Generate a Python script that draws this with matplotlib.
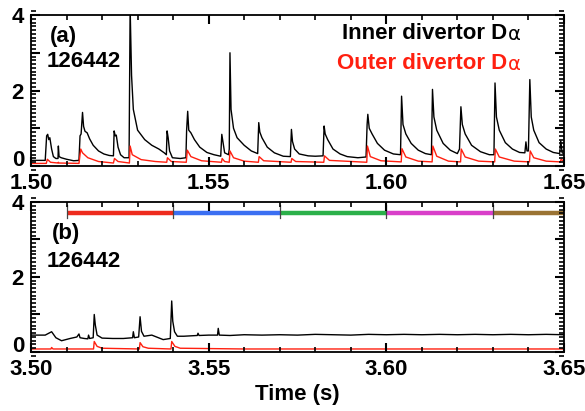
import numpy as np
import matplotlib
matplotlib.use("Agg")
import matplotlib.pyplot as plt
from matplotlib.ticker import MultipleLocator

'''=======================================================
==================    DATA    ============================
======================================================='''

ShotNumber = "126442"

# panel (a): inner divertor D-alpha
TopInnerTime = [
    1.5000, 1.5040, 1.5044, 1.5047, 1.5050, 1.5053, 1.5058, 1.5063, 1.5070, 1.5076,
    1.5077, 1.5079, 1.5085, 1.5100, 1.5120, 1.5135, 1.5138, 1.5141, 1.5145, 1.5148,
    1.5152, 1.5158, 1.5165, 1.5175, 1.5190, 1.5205, 1.5220, 1.5232, 1.5234, 1.5237,
    1.5240, 1.5245, 1.5252, 1.5262, 1.5276, 1.5279, 1.5283, 1.5288, 1.5300, 1.5320,
    1.5340, 1.5360, 1.5375, 1.5381, 1.5383, 1.5386, 1.5390, 1.5398, 1.5420, 1.5436,
    1.5438, 1.5441, 1.5444, 1.5450, 1.5460, 1.5475, 1.5495, 1.5515, 1.5534, 1.5537,
    1.5540, 1.5545, 1.5556, 1.5558, 1.5560, 1.5563, 1.5570, 1.5580, 1.5600, 1.5620,
    1.5638, 1.5641, 1.5644, 1.5650, 1.5665, 1.5685, 1.5710, 1.5730, 1.5733, 1.5736,
    1.5742, 1.5755, 1.5780, 1.5800, 1.5822, 1.5825, 1.5828, 1.5835, 1.5850, 1.5870,
    1.5890, 1.5920, 1.5943, 1.5946, 1.5948, 1.5952, 1.5960, 1.5975, 1.5995, 1.6020,
    1.6040, 1.6043, 1.6047, 1.6055, 1.6070, 1.6090, 1.6110, 1.6127, 1.6130, 1.6134,
    1.6142, 1.6160, 1.6180, 1.6200, 1.6206, 1.6210, 1.6214, 1.6222, 1.6240, 1.6265,
    1.6290, 1.6303, 1.6306, 1.6310, 1.6318, 1.6335, 1.6355, 1.6375, 1.6390, 1.6393,
    1.6396, 1.6400, 1.6404, 1.6408, 1.6415, 1.6430, 1.6450, 1.6470, 1.6488, 1.6491,
    1.6495, 1.6500]
TopInnerValue = [
    0.15, 0.15, 0.80, 0.84, 0.70, 0.75, 0.45, 0.25, 0.20, 0.20,
    0.53, 0.25, 0.22, 0.18, 0.14, 0.15, 0.80, 0.85, 1.42, 1.05,
    0.92, 0.88, 0.72, 0.55, 0.40, 0.32, 0.28, 0.27, 0.93, 0.80,
    0.82, 0.50, 0.30, 0.22, 0.22, 4.20, 2.40, 1.50, 0.95, 0.70,
    0.55, 0.45, 0.35, 0.30, 0.93, 0.75, 0.40, 0.22, 0.20, 0.22,
    0.95, 1.45, 0.95, 0.88, 0.70, 0.50, 0.36, 0.30, 0.26, 0.84,
    0.65, 0.35, 0.30, 0.45, 3.00, 1.50, 1.00, 0.75, 0.55, 0.40,
    0.33, 1.15, 0.90, 0.75, 0.50, 0.35, 0.26, 0.25, 0.97, 0.65,
    0.45, 0.32, 0.27, 0.26, 0.27, 1.06, 0.85, 0.70, 0.45, 0.32,
    0.25, 0.22, 0.24, 1.10, 1.37, 1.00, 0.85, 0.60, 0.42, 0.32,
    0.30, 1.85, 1.10, 0.85, 0.60, 0.42, 0.33, 0.30, 2.03, 1.30,
    0.95, 0.60, 0.42, 0.33, 0.45, 1.57, 1.10, 0.85, 0.55, 0.38,
    0.30, 0.30, 2.20, 1.30, 0.95, 0.62, 0.45, 0.36, 0.35, 0.64,
    0.40, 0.40, 2.29, 1.30, 0.95, 0.62, 0.45, 0.36, 0.33, 0.67,
    0.35, 0.33]

# panel (a): outer divertor D-alpha
TopOuterTime = [
    1.5000, 1.5043, 1.5046, 1.5055, 1.5076, 1.5077, 1.5079, 1.5135, 1.5140, 1.5145,
    1.5160, 1.5190, 1.5232, 1.5235, 1.5245, 1.5277, 1.5279, 1.5285, 1.5310, 1.5350,
    1.5382, 1.5384, 1.5395, 1.5437, 1.5440, 1.5450, 1.5480, 1.5536, 1.5538, 1.5545,
    1.5558, 1.5560, 1.5570, 1.5600, 1.5640, 1.5642, 1.5655, 1.5732, 1.5734, 1.5745,
    1.5824, 1.5826, 1.5840, 1.5945, 1.5947, 1.5955, 1.5985, 1.6042, 1.6044, 1.6055,
    1.6090, 1.6129, 1.6131, 1.6142, 1.6175, 1.6209, 1.6211, 1.6222, 1.6260, 1.6305,
    1.6307, 1.6318, 1.6360, 1.6403, 1.6405, 1.6415, 1.6450, 1.6490, 1.6492, 1.6500]
TopOuterValue = [
    0.07, 0.07, 0.18, 0.10, 0.08, 0.10, 0.08, 0.07, 0.45, 0.35,
    0.22, 0.12, 0.08, 0.20, 0.12, 0.08, 0.53, 0.30, 0.17, 0.12,
    0.10, 0.22, 0.12, 0.10, 0.42, 0.25, 0.14, 0.10, 0.20, 0.12,
    0.10, 0.40, 0.22, 0.13, 0.10, 0.25, 0.14, 0.10, 0.20, 0.12,
    0.10, 0.27, 0.15, 0.10, 0.53, 0.25, 0.14, 0.11, 0.46, 0.24,
    0.13, 0.11, 0.53, 0.26, 0.13, 0.11, 0.45, 0.24, 0.13, 0.11,
    0.45, 0.24, 0.13, 0.11, 0.40, 0.22, 0.13, 0.11, 0.18, 0.12]

# panel (b): inner divertor D-alpha
BotInnerTime = [
    3.5000, 3.5040, 3.5058, 3.5070, 3.5086, 3.5110, 3.5129, 3.5135, 3.5138, 3.5150,
    3.5160, 3.5162, 3.5165, 3.5175, 3.5178, 3.5181, 3.5186, 3.5200, 3.5230, 3.5260,
    3.5286, 3.5288, 3.5291, 3.5303, 3.5307, 3.5311, 3.5318, 3.5340, 3.5372, 3.5392,
    3.5396, 3.5399, 3.5404, 3.5412, 3.5430, 3.5468, 3.5470, 3.5473, 3.5500, 3.5525,
    3.5527, 3.5530, 3.5560, 3.5600, 3.5650, 3.5700, 3.5750, 3.5800, 3.5850, 3.5900,
    3.5950, 3.6000, 3.6050, 3.6100, 3.6150, 3.6200, 3.6250, 3.6300, 3.6350, 3.6400,
    3.6450, 3.6500]
BotInnerValue = [
    0.45, 0.45, 0.54, 0.38, 0.30, 0.36, 0.40, 0.48, 0.38, 0.36,
    0.35, 0.45, 0.36, 0.38, 1.00, 0.72, 0.45, 0.37, 0.36, 0.36,
    0.38, 0.54, 0.38, 0.40, 0.94, 0.55, 0.42, 0.45, 0.33, 0.36,
    1.36, 0.82, 0.54, 0.42, 0.42, 0.44, 0.50, 0.44, 0.45, 0.45,
    0.63, 0.45, 0.44, 0.46, 0.45, 0.46, 0.45, 0.47, 0.46, 0.45,
    0.47, 0.46, 0.47, 0.46, 0.47, 0.46, 0.47, 0.46, 0.47, 0.46,
    0.47, 0.46]

# panel (b): outer divertor D-alpha
BotOuterTime = [
    3.5000, 3.5056, 3.5058, 3.5062, 3.5176, 3.5178, 3.5186, 3.5200, 3.5305, 3.5307,
    3.5315, 3.5330, 3.5394, 3.5396, 3.5405, 3.5420, 3.5600, 3.6500]
BotOuterValue = [
    0.08, 0.08, 0.12, 0.08, 0.08, 0.28, 0.15, 0.10, 0.08, 0.25,
    0.14, 0.10, 0.08, 0.28, 0.15, 0.10, 0.08, 0.08]

# coloured time windows in panel (b)
WindowEdges  = [3.51, 3.54, 3.57, 3.60, 3.63, 3.65]
WindowColors = ["#ee2b1e", "#3b6ff2", "#2bb04a", "#d93fc9", "#9a7333"]
WindowLevel  = 3.72

YTicks      = [0, 1, 2, 3, 4]
YTickLabels = ['0', '', '2', '', '4']

'''=======================================================
==================    PLOT    ============================
======================================================='''

FONT = dict(fontfamily='Liberation Sans', fontweight='bold', fontsize=16)
RED = '#ff2010'

fig = plt.figure(figsize=(5.85, 4.11), dpi=100)
axA = fig.add_axes([0.053, 0.596, 0.911, 0.3675])
axB = fig.add_axes([0.053, 0.1436, 0.911, 0.3649])


def draw_marks(ax, xpos, ypos, xlen, ylen, lw):
    # inward tick marks on all four sides, drawn as plain segments
    xt = ax.get_xaxis_transform()
    yt = ax.get_yaxis_transform()
    kw = dict(colors='black', lw=lw, clip_on=False, zorder=5)
    ax.vlines(xpos, 0, xlen, transform=xt, **kw)
    ax.vlines(xpos, 1 - xlen, 1, transform=xt, **kw)
    ax.hlines(ypos, 0, ylen, transform=yt, **kw)
    ax.hlines(ypos, 1 - ylen, 1, transform=yt, **kw)


def style_axis(ax, x0):
    ax.set_xlim(x0, x0 + 0.15)
    ax.set_ylim(0, 4)
    xt = [x0 + 0.05 * k for k in range(4)]
    ax.set_xticks(xt, labels=[f"{t:.2f}" for t in xt], **FONT)
    ax.set_yticks(YTicks, labels=YTickLabels, **FONT)
    ax.tick_params(which='both', length=0, pad=5)
    for s in ax.spines.values():
        s.set_linewidth(1.3)
    # lift the "0" so it clears the time labels
    ax.get_yticklabels()[0].set_verticalalignment('baseline')

    # tick marks: major every 0.05 s / 1 unit, minor every 0.01 s / 0.1 unit
    w_px = ax.get_position().width * fig.bbox.width
    h_px = ax.get_position().height * fig.bbox.height
    xminor = MultipleLocator(0.01).tick_values(x0, x0 + 0.15)
    yminor = MultipleLocator(0.1).tick_values(0, 4)
    draw_marks(ax, xminor, yminor, 5 / h_px, 5 / w_px, 1.2)
    draw_marks(ax, xt, YTicks, 9 / h_px, 9 / w_px, 1.5)


def label_with_alpha(ax, x, y, text, color):
    t = ax.text(x, y, text, transform=ax.transAxes, color=color,
                va='center', ha='right', **FONT)
    ax.annotate("α", xy=(1.0, 0.0), xycoords=t, xytext=(1, 0),
                textcoords='offset points', color=color, fontsize=14,
                fontfamily='DejaVu Sans', va='bottom', ha='left')


axA.plot(TopInnerTime, TopInnerValue, color='black', lw=1.0)
axA.plot(TopOuterTime, TopOuterValue, color=RED, lw=1.0)
style_axis(axA, 1.50)
axA.text(0.036, 0.86, "(a)", transform=axA.transAxes, va='center', ha='left', **FONT)
axA.text(0.03, 0.69, ShotNumber, transform=axA.transAxes, va='center', ha='left', **FONT)
label_with_alpha(axA, 0.893, 0.88, "Inner divertor D", 'black')
label_with_alpha(axA, 0.893, 0.68, "Outer divertor D", RED)

axB.plot(BotInnerTime, BotInnerValue, color='black', lw=1.0)
axB.plot(BotOuterTime, BotOuterValue, color=RED, lw=1.0)
for i in range(0, len(WindowColors)):
    axB.plot([WindowEdges[i], WindowEdges[i + 1]], [WindowLevel, WindowLevel],
             color=WindowColors[i], lw=3.2, solid_capstyle='butt')
for e in WindowEdges[:-1]:
    axB.plot([e, e], [WindowLevel - 0.15, WindowLevel + 0.2], color='#444444', lw=0.9)
style_axis(axB, 3.50)
axB.text(0.04, 0.79, "(b)", transform=axB.transAxes, va='center', ha='left', **FONT)
axB.text(0.03, 0.60, ShotNumber, transform=axB.transAxes, va='center', ha='left', **FONT)
axB.set_xlabel("Time (s)", labelpad=3, **FONT)

fig.savefig("out.png", dpi=100)
